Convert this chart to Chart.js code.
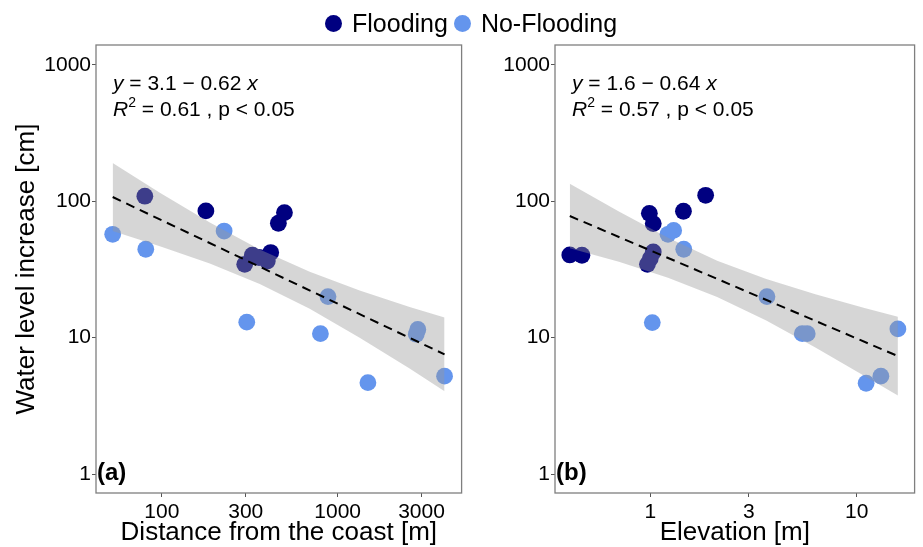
<!DOCTYPE html>
<html>
<head>
<meta charset="utf-8">
<script src="https://cdn.jsdelivr.net/npm/chart.js@4/dist/chart.umd.min.js"></script>
<style>
  body { margin: 0; background: #fff; font-family: 'Liberation Sans', Arial, sans-serif; }
  #wrap { position: relative; width: 923px; height: 547px; overflow: hidden; }
  #legend { position: absolute; top: 11px; left: 325px; display: flex; align-items: center;
            font-size: 25px; line-height: 25px; color: #000; white-space: nowrap; }
  .dot { width: 17px; height: 17px; border-radius: 50%; display: inline-block; margin-right: 10px; }
  #chartA { position: absolute; left: 0; top: 0; }
  #chartB { position: absolute; left: 470px; top: 0; }
</style>
</head>
<body>
<div id="wrap">
  <canvas id="chartA" width="470" height="547"></canvas>
  <canvas id="chartB" width="453" height="547"></canvas>
  <div id="legend">
    <span class="dot" style="background:#000080"></span><span style="margin-right:6px">Flooding</span>
    <span class="dot" style="background:#6495ED"></span><span>No-Flooding</span>
  </div>
</div>
<script>
// values (log-log panels)
const levelTicks = [1, 10, 100, 1000];
const distTicks = [100, 300, 1000, 3000];
const elevTicks = [1, 3, 10];

// panel (a): distance from the coast [m] vs water level increase [cm]
const distFlood = [80, 178, 296, 327, 357, 398, 416, 460, 498];
const levelFloodA = [109, 85, 34.5, 40.2, 38.7, 36.5, 42.1, 69, 82.6];
const distNoFlood = [52.5, 81, 226, 304, 881, 798, 1486, 2857, 2800, 4055];
const levelNoFloodA = [57.3, 44.5, 60.5, 13.0, 20.0, 10.7, 4.68, 11.5, 10.6, 5.22];

const bandDistX = [52.5, 97.4, 187.4, 360.5, 693.4, 1334, 2566, 4055];
const bandDistLo = [60.5, 46.9, 35.0, 24.8, 16.3, 9.98, 5.93, 4.05];
const bandDistHi = [191, 115.6, 69.8, 44.3, 30.4, 22.2, 16.8, 14.05];
const fitDistX = [52.5, 4055];
const fitDistY = [107.5, 7.54];

// panel (b): elevation [m] vs water level increase [cm]
const elevFlood = [0.407, 0.466, 0.989, 1.033, 0.968, 0.999, 1.033, 1.447, 1.854];
const levelFloodB = [40.4, 40.2, 81.6, 68.6, 34.5, 38.0, 42.5, 84.5, 110.7];
const elevNoFlood = [1.022, 1.218, 1.297, 1.452, 3.675, 5.45, 5.76, 11.12, 13.11, 15.85];
const levelNoFloodB = [12.9, 57.3, 61.2, 44.5, 20.0, 10.7, 10.7, 4.63, 5.22, 11.6];

const bandElevX = [0.407, 0.704, 1.218, 2.108, 3.647, 6.31, 10.92, 15.85];
const bandElevLo = [45.2, 36.0, 27.5, 19.9, 13.35, 8.47, 5.24, 3.77];
const bandElevHi = [134.6, 84.3, 54.0, 36.6, 26.9, 20.8, 16.5, 14.26];
const fitElevX = [0.407, 15.85];
const fitElevY = [78.0, 7.33];

const statsA = { icpt: '3.1', slope: '0.62', r2: '0.61', tag: '(a)' };
const statsB = { icpt: '1.6', slope: '0.64', r2: '0.57', tag: '(b)' };

const FONT = "'Liberation Sans', Arial, sans-serif";

function pts(xs, ys) {
    return xs.map((x, i) => ({ x: x, y: ys[i] }));
}

function drawRuns(ctx, x, y, runs) {
    runs.forEach(r => {
        ctx.font = r.font;
        ctx.fillText(r.text, x, y - (r.rise || 0));
        x += ctx.measureText(r.text).width;
    });
}

// panel box, regression text and panel tag
const panelNotes = {
    id: 'panelNotes',
    afterDraw(chart, args, opts) {
        const ctx = chart.ctx;
        const a = chart.chartArea;
        ctx.save();
        ctx.strokeStyle = '#7f7f7f';
        ctx.lineWidth = 1.3;
        ctx.strokeRect(a.left, a.top, a.right - a.left, a.bottom - a.top);

        ctx.fillStyle = '#000';
        ctx.textBaseline = 'alphabetic';
        const norm = '21px ' + FONT, ital = 'italic 21px ' + FONT;
        drawRuns(ctx, a.left + 17, a.top + 45, [
            { text: 'y', font: ital },
            { text: ' = ' + opts.icpt + ' \u2212 ' + opts.slope + ' ', font: norm },
            { text: 'x', font: ital }
        ]);
        drawRuns(ctx, a.left + 17, a.top + 71, [
            { text: 'R', font: ital },
            { text: '2', font: '14px ' + FONT, rise: 9 },
            { text: ' = ' + opts.r2 + ' , p < 0.05', font: norm }
        ]);
        ctx.font = 'bold 24px ' + FONT;
        ctx.fillText(opts.tag, a.left + 1, a.bottom - 13);
        ctx.restore();
    }
};

function makeChart(id, cfg) {
    const tickGrid = { display: true, drawOnChartArea: false, drawTicks: true, tickLength: 4, color: '#555' };
    const yScale = {
        type: 'logarithmic', min: 0.726, max: 1400, bounds: 'data',
        grid: tickGrid, border: { display: false },
        afterBuildTicks: s => { s.ticks = levelTicks.map(v => ({ value: v })); },
        afterFit: s => { s.width = cfg.yWidth; },
        ticks: { color: '#000', font: { size: 21, family: FONT }, padding: 1, callback: v => String(v) },
        title: { display: cfg.yTitle !== '', text: cfg.yTitle, color: '#000',
                 font: { size: 26, family: FONT, lineHeight: 1 }, padding: { top: 14, bottom: 0 } }
    };
    const xScale = {
        type: 'logarithmic', min: cfg.xMin, max: cfg.xMax, bounds: 'data',
        grid: tickGrid, border: { display: false },
        afterBuildTicks: s => { s.ticks = cfg.xTicks.map(v => ({ value: v })); },
        afterFit: s => { s.height = 54; },
        ticks: { color: '#000', font: { size: 21, family: FONT }, padding: 3, maxRotation: 0,
                 autoSkip: false, callback: v => String(v) },
        title: { display: true, text: cfg.xTitle, color: '#000',
                 font: { size: 26, family: FONT, lineHeight: 1 }, padding: { top: 0, bottom: 1 } }
    };

    return new Chart(document.getElementById(id).getContext('2d'), {
        type: 'scatter',
        data: {
            datasets: [{
                label: 'Flooding',
                data: pts(cfg.floodX, cfg.floodY),
                backgroundColor: '#000080',
                borderWidth: 0,
                pointRadius: 8.4,
                pointHoverRadius: 8.4,
                order: 3
            }, {
                label: 'No-Flooding',
                data: pts(cfg.noFloodX, cfg.noFloodY),
                backgroundColor: '#6495ED',
                borderWidth: 0,
                pointRadius: 8.4,
                pointHoverRadius: 8.4,
                order: 2
            }, {
                type: 'line',
                label: 'ci low',
                data: pts(cfg.bandX, cfg.bandLo),
                borderWidth: 0,
                pointRadius: 0,
                fill: false,
                order: 1
            }, {
                type: 'line',
                label: 'ci high',
                data: pts(cfg.bandX, cfg.bandHi),
                borderWidth: 0,
                pointRadius: 0,
                backgroundColor: 'rgba(153,153,153,0.4)',
                fill: '-1',
                order: 1
            }, {
                type: 'line',
                label: 'fit',
                data: pts(cfg.fitX, cfg.fitY),
                borderColor: '#000',
                borderWidth: 2,
                borderDash: [9, 6],
                pointRadius: 0,
                fill: false,
                order: 0
            }]
        },
        options: {
            responsive: false,
            animation: false,
            layout: { padding: { top: 45, right: cfg.padRight, left: 0, bottom: 0 } },
            plugins: {
                legend: { display: false },
                tooltip: { enabled: false },
                panelNotes: cfg.stats
            },
            scales: { x: xScale, y: yScale }
        },
        plugins: [panelNotes]
    });
}

makeChart('chartA', {
    floodX: distFlood, floodY: levelFloodA,
    noFloodX: distNoFlood, noFloodY: levelNoFloodA,
    bandX: bandDistX, bandLo: bandDistLo, bandHi: bandDistHi,
    fitX: fitDistX, fitY: fitDistY,
    xMin: 42.2, xMax: 5070, xTicks: distTicks,
    xTitle: 'Distance from the coast [m]', yTitle: 'Water level increase [cm]',
    yWidth: 96, padRight: 8, stats: statsA
});

makeChart('chartB', {
    floodX: elevFlood, floodY: levelFloodB,
    noFloodX: elevNoFlood, noFloodY: levelNoFloodB,
    bandX: bandElevX, bandLo: bandElevLo, bandHi: bandElevHi,
    fitX: fitElevX, fitY: fitElevY,
    xMin: 0.345, xMax: 19.1, xTicks: elevTicks,
    xTitle: 'Elevation [m]', yTitle: '',
    yWidth: 85, padRight: 2, stats: statsB
});
</script>
</body>
</html>
